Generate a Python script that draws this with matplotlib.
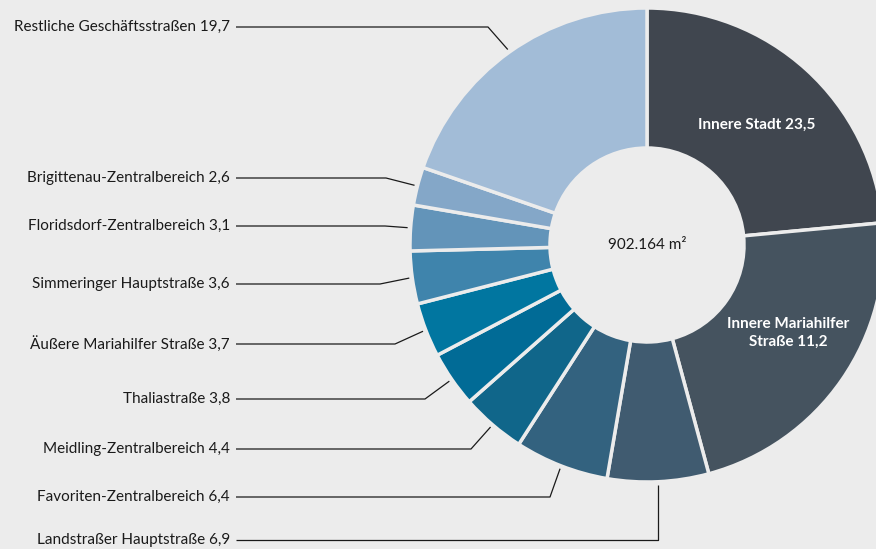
import numpy as np
import matplotlib.pyplot as plt

plt.rcParams['font.family'] = ['Lato', 'DejaVu Sans']

# clockwise from the top
names = ['Innere Stadt', 'Innere Mariahilfer Straße', 'Landstraßer Hauptstraße',
         'Favoriten-Zentralbereich', 'Meidling-Zentralbereich', 'Thaliastraße',
         'Äußere Mariahilfer Straße', 'Simmeringer Hauptstraße',
         'Floridsdorf-Zentralbereich', 'Brigittenau-Zentralbereich',
         'Restliche Geschäftsstraßen']
values = [23.5, 11.2, 6.9, 6.4, 4.4, 3.8, 3.7, 3.6, 3.1, 2.6, 19.7]
# slice sizes as drawn in the picture (Mariahilfer slice is drawn larger than its label)
shares = [23.5, 22.3, 6.9, 6.4, 4.4, 3.8, 3.7, 3.6, 3.1, 2.6, 19.7]
colors = ['#40464f', '#45535f', '#405b70', '#33627f', '#10668a', '#016b96',
          '#0176a0', '#3f84ac', '#6394b9', '#84a7c8', '#a2bcd7']
total = '902.164 m²'

bg = '#ececec'
W, H = 876, 549
cx, cy = 647, H - 245
R = 237
fs = 11

fig = plt.figure(figsize=(W / 100, H / 100), dpi=100, facecolor=bg)
ax = fig.add_axes([0, 0, 1, 1])
ax.set_facecolor(bg)

wedges, _ = ax.pie(shares, colors=colors, startangle=90, counterclock=False,
                   center=(cx, cy), radius=R,
                   wedgeprops=dict(width=140, edgecolor=bg, linewidth=2.5))
ax.set_xlim(0, W)
ax.set_ylim(0, H)
ax.set_aspect('equal')
ax.axis('off')

def fmt(v):
    return f'{v:.1f}'.replace('.', ',')

ax.text(cx, cy, total, ha='center', va='center', fontsize=fs, color='#1a1a1a')

# labels inside the two big slices
ax.text(757, H - 125, f'{names[0]} {fmt(values[0])}', ha='center', va='center',
        fontsize=fs, fontweight='bold', color='white')
ax.text(788, H - 333, f'Innere Mariahilfer\nStraße {fmt(values[1])}', ha='center',
        va='center', fontsize=fs, fontweight='bold', color='white', linespacing=1.3)

# outside labels: (index, label y, elbow x) in pixel layout
outside = [(10, 27, 488), (9, 178, 386), (8, 226, 385), (7, 284, 380),
           (6, 344, 395), (5, 399, 425), (4, 449, 471), (3, 497, 550), (2, 540, None)]
for i, ly, ex in outside:
    w = wedges[i]
    mid = np.deg2rad((w.theta1 + w.theta2) / 2)
    px = cx + (R + 3) * np.cos(mid)
    py = cy + (R + 3) * np.sin(mid)
    y = H - ly
    if ex is None:
        ex = px
    ax.plot([236, ex, px], [y, y, py], color='#1a1a1a', lw=0.9,
            solid_capstyle='butt', clip_on=False)
    ax.text(230, y, f'{names[i]} {fmt(values[i])}', ha='right', va='center',
            fontsize=fs, color='#1a1a1a')

fig.savefig('out.png', dpi=100, facecolor=bg)
